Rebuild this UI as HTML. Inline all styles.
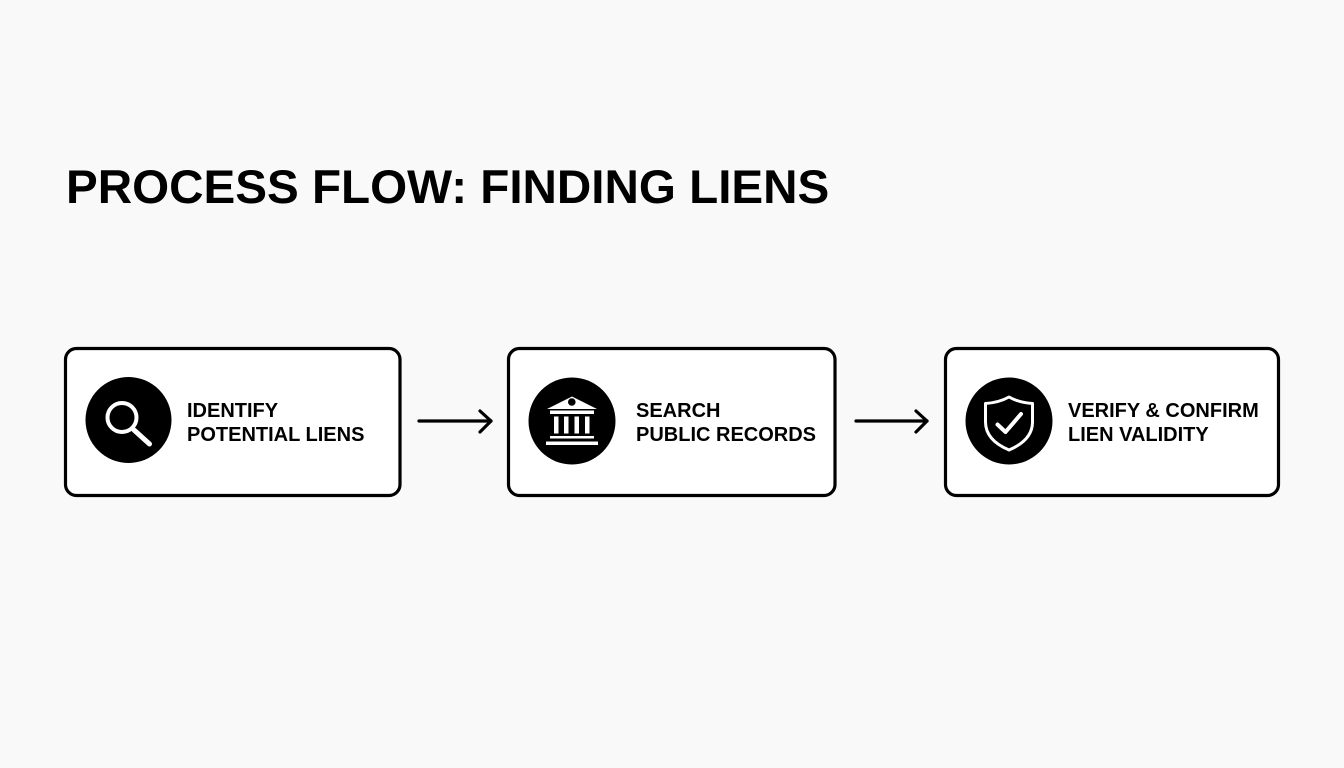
<!DOCTYPE html>
<html>
<head>
<meta charset="utf-8">
<style>
  html, body { margin: 0; padding: 0; }
  body { width: 1344px; height: 768px; background: #f9f9f9; position: relative; overflow: hidden; font-family: "Liberation Sans", Arial, sans-serif; }
  .title { position: absolute; left: 66px; top: 164px; font-size: 47.6px; line-height: 47.6px; font-weight: bold; color: #000; white-space: nowrap; letter-spacing: 0; }
  .lbl { position: absolute; font-size: 20px; line-height: 24.5px; font-weight: bold; color: #000; white-space: nowrap; }
  svg { position: absolute; left: 0; top: 0; }
</style>
</head>
<body>
<svg width="1344" height="768" viewBox="0 0 1344 768" xmlns="http://www.w3.org/2000/svg">
  <!-- boxes -->
  <rect x="65.5" y="348.5" width="334.5" height="147" rx="11" ry="11" fill="#fff" stroke="#000" stroke-width="3.2"/>
  <rect x="508.5" y="348.5" width="326.5" height="147" rx="11" ry="11" fill="#fff" stroke="#000" stroke-width="3.2"/>
  <rect x="945.5" y="348.5" width="333" height="147" rx="11" ry="11" fill="#fff" stroke="#000" stroke-width="3.2"/>

  <!-- arrows -->
  <g fill="none" stroke="#000" stroke-width="3.2" stroke-linecap="round" stroke-linejoin="round">
    <line x1="419" y1="421" x2="491" y2="421"/>
    <polyline points="480,411 491,421 480,432"/>
    <line x1="856" y1="421" x2="927" y2="421"/>
    <polyline points="916,411 927,421 916,432"/>
  </g>

  <!-- icon circles -->
  <circle cx="128.5" cy="420" r="43" fill="#000"/>
  <circle cx="572" cy="421" r="43.5" fill="#000"/>
  <circle cx="1009" cy="421" r="43.5" fill="#000"/>

  <!-- magnifier -->
  <g fill="none" stroke="#fff" stroke-linecap="round">
    <circle cx="122" cy="417.5" r="14.5" stroke-width="4"/>
    <line x1="134" y1="430" x2="149.5" y2="444" stroke-width="5"/>
  </g>

  <!-- bank -->
  <g fill="#fff">
    <polygon points="572,396.5 547,409 597,409"/>
    <circle cx="571.8" cy="402" r="3.8" fill="#000"/>
    <rect x="550" y="410.5" width="44" height="3.5"/>
    <rect x="554" y="416.5" width="4.5" height="17"/>
    <rect x="564" y="416.5" width="4.5" height="17"/>
    <rect x="574.5" y="416.5" width="4.5" height="17"/>
    <rect x="585" y="416.5" width="4.5" height="17"/>
    <rect x="550" y="436" width="44" height="2.5"/>
    <rect x="546" y="441.5" width="52" height="3.5"/>
  </g>

  <!-- shield -->
  <g fill="none" stroke="#fff" stroke-linejoin="round" stroke-linecap="round">
    <path d="M1009,397 C1001,401.5 993,403 985.5,403.5 L985.5,422 C985.5,436 996,444.5 1009,450 C1022,444.5 1032.5,436 1032.5,422 L1032.5,403.5 C1025,403 1017,401.5 1009,397 Z" stroke-width="3"/>
    <polyline points="997.5,424.5 1005.5,432 1021,414" stroke-width="4"/>
  </g>
</svg>

<div class="title">PROCESS FLOW: FINDING LIENS</div>

<div class="lbl" style="left:187px; top:398.5px;">IDENTIFY<br>POTENTIAL LIENS</div>
<div class="lbl" style="left:636px; top:398.5px;">SEARCH<br>PUBLIC RECORDS</div>
<div class="lbl" style="left:1068px; top:398.5px;">VERIFY &amp; CONFIRM<br>LIEN VALIDITY</div>
</body>
</html>
